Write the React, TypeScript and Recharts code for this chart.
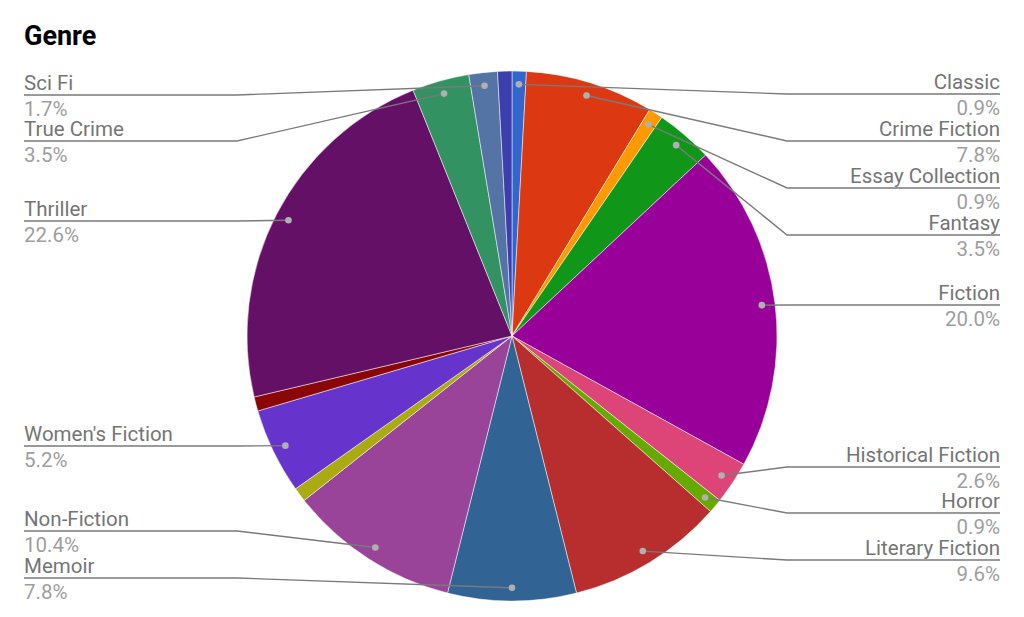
import React from "react";
import { PieChart, Pie, Cell } from "recharts";

// slice order is the sheet order, clockwise from 12 o'clock
const genres = [
  "Classic",
  "Crime Fiction",
  "Essay Collection",
  "Fantasy",
  "Fiction",
  "Historical Fiction",
  "Horror",
  "Literary Fiction",
  "Memoir",
  "Non-Fiction",
  "Unlabeled 1",
  "Women's Fiction",
  "Unlabeled 2",
  "Thriller",
  "True Crime",
  "Sci Fi",
  "Unlabeled 3",
];
const bookCounts = [1, 9, 1, 4, 23, 3, 1, 11, 9, 12, 1, 6, 1, 26, 4, 2, 1];
const sliceColors = [
  "#3366cc",
  "#dc3912",
  "#ff9900",
  "#109618",
  "#990099",
  "#dd4477",
  "#66aa00",
  "#b82e2e",
  "#316395",
  "#994499",
  "#aaaa11",
  "#6633cc",
  "#8b0707",
  "#651067",
  "#329262",
  "#5574a6",
  "#3b3eac",
];

// where each outside label sits (the three small slices get no label)
const labelPlaces: Record<string, { side: "left" | "right"; y: number }> = {
  Classic: { side: "right", y: 94 },
  "Crime Fiction": { side: "right", y: 141 },
  "Essay Collection": { side: "right", y: 188 },
  Fantasy: { side: "right", y: 235 },
  Fiction: { side: "right", y: 305 },
  "Historical Fiction": { side: "right", y: 467 },
  Horror: { side: "right", y: 513 },
  "Literary Fiction": { side: "right", y: 560 },
  Memoir: { side: "left", y: 578 },
  "Non-Fiction": { side: "left", y: 531 },
  "Women's Fiction": { side: "left", y: 446 },
  Thriller: { side: "left", y: 221 },
  "True Crime": { side: "left", y: 141 },
  "Sci Fi": { side: "left", y: 95 },
};

const data = genres.map((name, i) => ({ name, value: bookCounts[i] }));

const RADIAN = Math.PI / 180;
const FONT = "Roboto, 'Noto Sans', sans-serif";

const renderLabel = (props: any) => {
  const { cx, cy, midAngle, outerRadius, index, percent } = props;
  const name = genres[index];
  const place = labelPlaces[name];
  if (!place) return null;

  const r = outerRadius * 0.95;
  const dotX = cx + r * Math.cos(-midAngle * RADIAN);
  const dotY = cy + r * Math.sin(-midAngle * RADIAN);
  const right = place.side === "right";
  const bendX = right ? cx + outerRadius + 10 : cx - outerRadius - 10;
  const endX = right ? 1000 : 24;
  const anchor = right ? "end" : "start";

  return (
    <g key={name}>
      <polyline
        points={`${dotX},${dotY} ${bendX},${place.y} ${endX},${place.y}`}
        fill="none"
        stroke="#7a7a7a"
        strokeWidth={1.4}
      />
      <circle cx={dotX} cy={dotY} r={3.3} fill="#b0b0b0" />
      <text x={endX} y={place.y - 5} textAnchor={anchor} fill="#757575" fontSize={20.5} fontFamily={FONT}>
        {name}
      </text>
      <text x={endX} y={place.y + 21} textAnchor={anchor} fill="#9e9e9e" fontSize={20.5} fontFamily={FONT}>
        {(percent * 100).toFixed(1)}%
      </text>
    </g>
  );
};

export default function App() {
  return (
    <div style={{ position: "absolute", left: 0, top: 0, width: 1024, height: 617, background: "#fff" }}>
      <PieChart width={1024} height={617} margin={{ top: 0, right: 0, bottom: 0, left: 0 }}>
        <Pie
          data={data}
          dataKey="value"
          nameKey="name"
          cx={512}
          cy={336}
          outerRadius={265}
          startAngle={90}
          endAngle={-270}
          stroke="#ffffff"
          strokeWidth={0.5}
          label={renderLabel}
          labelLine={false}
          isAnimationActive={false}
        >
          {data.map((d, i) => (
            <Cell key={d.name} fill={sliceColors[i]} />
          ))}
        </Pie>
      </PieChart>
      <svg width={200} height={60} style={{ position: "absolute", left: 0, top: 0 }}>
        <text x={24} y={45} fontFamily={FONT} fontWeight={700} fontSize={27} fill="#000">
          Genre
        </text>
      </svg>
    </div>
  );
}
